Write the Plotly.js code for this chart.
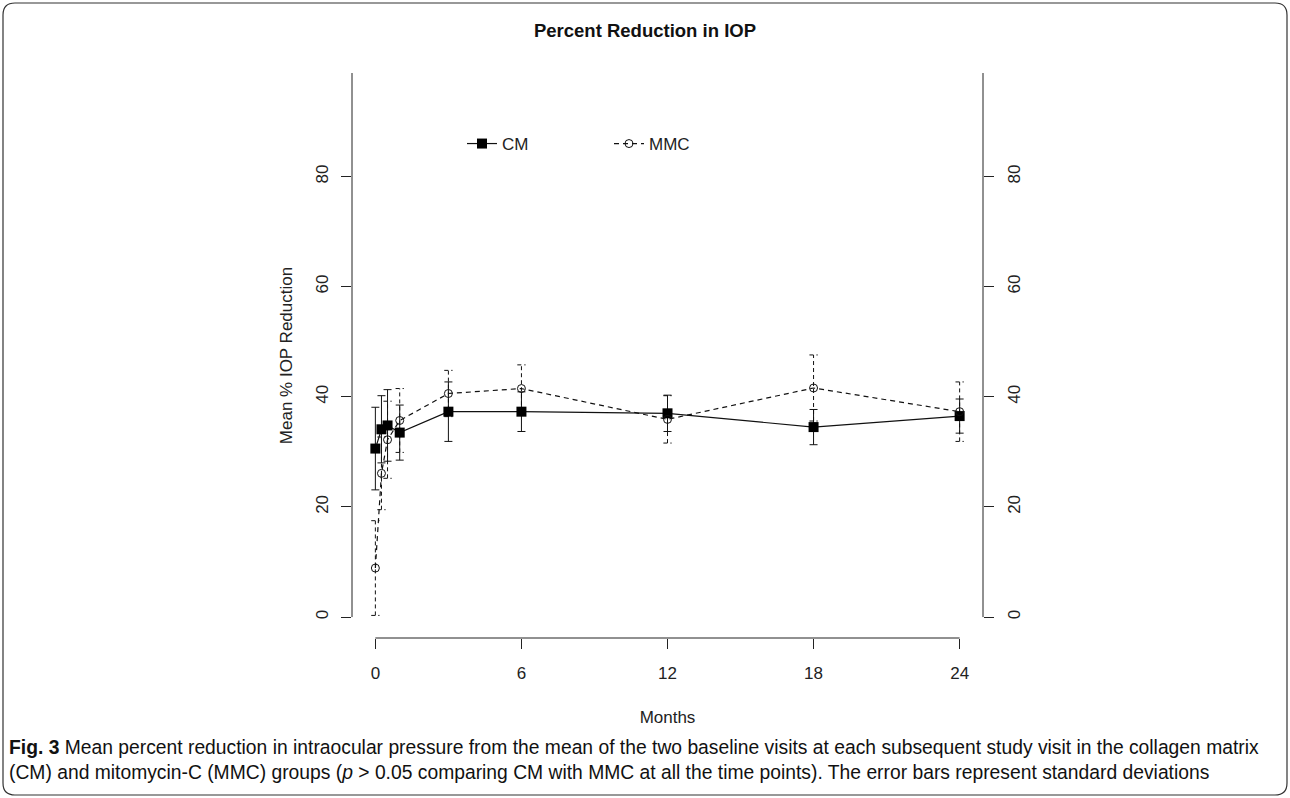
<!DOCTYPE html>
<html>
<head>
<meta charset="utf-8">
<script src="https://cdn.plot.ly/plotly-3.0.1.min.js"></script>
<style>html,body{margin:0;padding:0;background:#fff;}#chart{width:1290px;height:798px;}</style>
</head>
<body>
<div id="chart"></div>
<script>
// Data (months after surgery)
const months = [0, 0.25, 0.5, 1, 3, 6, 12, 18, 24];
const cmMean = [30.6, 34.1, 34.8, 33.5, 37.3, 37.3, 37.0, 34.5, 36.5];
const cmSD   = [7.5, 6.1, 6.5, 5.0, 5.4, 3.6, 3.3, 3.2, 3.1];
const mmcMean = [8.9, 26.1, 32.2, 35.7, 40.6, 41.5, 35.9, 41.6, 37.3];
const mmcSD   = [8.6, 6.6, 7.0, 5.8, 4.2, 4.3, 4.3, 6.0, 5.4];
const xTicks = [0, 6, 12, 18, 24];
const yTicks = [0, 20, 40, 60, 80];

// geometry
const W = 1290, H = 798;
const L = 352, R = 983, T = 73, B = 638;
const px = v => (v - L) / (R - L);
const py = v => (B - v) / (B - T);
const capHalf = 0.17; // cap half-width in months

// MMC dashed whiskers built from data
const wx = [], wy = [];
months.forEach((m, i) => {
  const lo = mmcMean[i] - mmcSD[i], hi = mmcMean[i] + mmcSD[i];
  wx.push(m, m, null, m - capHalf, m + capHalf, null, m - capHalf, m + capHalf, null);
  wy.push(lo, hi, null, lo, lo, null, hi, hi, null);
});

const font = "'Liberation Sans', Arial, sans-serif";
const traces = [
  {
    x: wx, y: wy, mode: 'lines', type: 'scatter', showlegend: false, hoverinfo: 'skip',
    line: {color: '#111', width: 1, dash: '4px,3px'}
  },
  {
    x: months, y: cmMean, name: 'CM', type: 'scatter', mode: 'lines+markers',
    line: {color: '#111', width: 1.2},
    marker: {symbol: 'square', size: 10, color: '#000'},
    error_y: {type: 'data', array: cmSD, visible: true, color: '#111', thickness: 1, width: 4}
  },
  {
    x: months, y: mmcMean, name: 'MMC', type: 'scatter', mode: 'lines+markers',
    line: {color: '#111', width: 1.2, dash: '5px,4px'},
    marker: {symbol: 'circle-open', size: 8, color: '#111', line: {width: 1}}
  },
  {
    x: [0], y: [0], yaxis: 'y2', mode: 'markers', marker: {opacity: 0}, showlegend: false, hoverinfo: 'skip'
  }
];

// rounded border
const r = 12, bx0 = 3, by0 = 3, bx1 = 1287, by1 = 795;
const P = (x, y) => px(x).toFixed(5) + ',' + py(y).toFixed(5);
const borderPath = 'M' + P(bx0 + r, by0) + ' L' + P(bx1 - r, by0) + ' Q' + P(bx1, by0) + ' ' + P(bx1, by0 + r) +
  ' L' + P(bx1, by1 - r) + ' Q' + P(bx1, by1) + ' ' + P(bx1 - r, by1) +
  ' L' + P(bx0 + r, by1) + ' Q' + P(bx0, by1) + ' ' + P(bx0, by1 - r) +
  ' L' + P(bx0, by0 + r) + ' Q' + P(bx0, by0) + ' ' + P(bx0 + r, by0) + ' Z';

const axisCommon = {
  ticks: 'outside', ticklen: 10, tickcolor: '#222', tickwidth: 1,
  showgrid: false, zeroline: false, showline: false,
  tickfont: {family: font, size: 17, color: '#222'}
};

const layout = {
  width: W, height: H,
  margin: {l: L, r: W - R, t: T, b: H - B},
  paper_bgcolor: '#fff', plot_bgcolor: '#fff',
  font: {family: font, color: '#222', size: 16},
  showlegend: true,
  title: {text: '<b>Percent Reduction in IOP</b>', x: 0.5, xref: 'container', y: 1 - 31 / H, yanchor: 'middle',
          font: {family: font, size: 18.5, color: '#111'}},
  xaxis: Object.assign({}, axisCommon, {
    range: [-0.96, 24.96], tickvals: xTicks, ticktext: xTicks.map(String),
    ticklabelstandoff: 10,
    title: {text: 'Months', standoff: 28, font: {family: font, size: 17, color: '#222'}}
  }),
  yaxis: Object.assign({}, axisCommon, {
    range: [-3.8, 98.8], tickvals: yTicks, ticktext: yTicks.map(String), tickangle: -90,
    ticklabelstandoff: 6,
    title: {text: 'Mean % IOP Reduction', standoff: 16, font: {family: font, size: 17, color: '#222'}}
  }),
  yaxis2: Object.assign({}, axisCommon, {
    range: [-3.8, 98.8], overlaying: 'y', side: 'right', tickvals: yTicks, ticktext: yTicks.map(String), tickangle: -90,
    ticklabelstandoff: 6
  }),
  legend: {
    orientation: 'h', x: px(462), xanchor: 'left', y: py(144), yanchor: 'middle',
    bgcolor: 'rgba(0,0,0,0)', font: {family: font, size: 17, color: '#222'},
    entrywidth: 102, entrywidthmode: 'pixels', itemclick: false
  },
  shapes: [
    {type: 'line', xref: 'paper', yref: 'y', x0: 0, x1: 0, y0: 0, y1: 98.8, line: {color: '#222', width: 1}},
    {type: 'line', xref: 'paper', yref: 'y', x0: 1, x1: 1, y0: 0, y1: 98.8, line: {color: '#222', width: 1}},
    {type: 'line', xref: 'x', yref: 'paper', x0: xTicks[0], x1: xTicks[xTicks.length - 1], y0: 0, y1: 0, line: {color: '#222', width: 1}},
    {type: 'path', xref: 'paper', yref: 'paper', path: borderPath, line: {color: '#333', width: 1.2}, fillcolor: 'rgba(0,0,0,0)', layer: 'below'}
  ],
  annotations: [
    {xref: 'paper', yref: 'paper', x: px(7), y: py(760), xanchor: 'left', yanchor: 'middle', align: 'left', showarrow: false,
     font: {family: font, size: 19.3, color: '#111'},
     text: '<b>Fig. 3</b> Mean percent reduction in intraocular pressure from the mean of the two baseline visits at each subsequent study visit in the collagen matrix<br>(CM) and mitomycin-C (MMC) groups (<i>p</i> &gt; 0.05 comparing CM with MMC at all the time points). The error bars represent standard deviations'}
  ]
};

Plotly.newPlot('chart', traces, layout, {displayModeBar: false, staticPlot: true});
</script>
</body>
</html>
